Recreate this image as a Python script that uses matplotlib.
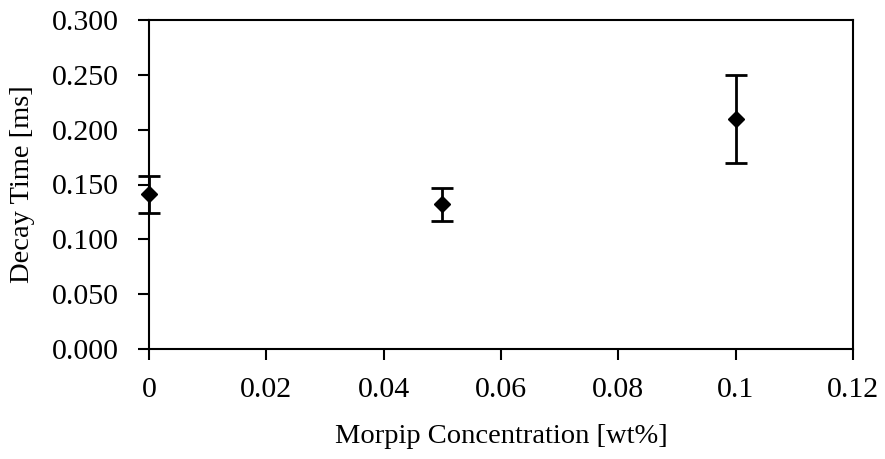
import numpy as np
import matplotlib.pyplot as plt

plt.rcParams['font.family'] = ['Liberation Serif', 'DejaVu Serif']

# data
conc = np.array([0.0, 0.05, 0.10])
decay = np.array([0.141, 0.132, 0.210])
err = np.array([0.017, 0.015, 0.040])

fig = plt.figure(figsize=(8.85, 4.59), dpi=100)
ax = fig.add_axes([149 / 885, 110 / 459, 704 / 885, 329 / 459])

ax.errorbar(conc, decay, yerr=err, fmt='D', color='black', markersize=8,
            ecolor='black', elinewidth=2, capsize=8, capthick=2, clip_on=False, zorder=5)

ax.set_xlim(0, 0.12)
ax.set_ylim(0, 0.3)
ax.set_xticks([0, 0.02, 0.04, 0.06, 0.08, 0.10, 0.12])
ax.set_xticklabels(['0', '0.02', '0.04', '0.06', '0.08', '0.1', '0.12'])
ax.set_yticks(np.arange(0, 0.301, 0.05))
ax.set_yticklabels(['%.3f' % v for v in np.arange(0, 0.301, 0.05)])

ax.tick_params(direction='out', length=8, width=1.5, labelsize=21.5, pad=14)
ax.tick_params(axis='x', pad=12)
for s in ax.spines.values():
    s.set_linewidth(1.5)

ax.set_xlabel('Morpip Concentration [wt%]', fontsize=20.5, labelpad=15)
ax.set_ylabel('Decay Time [ms]', fontsize=20.5, labelpad=12)

fig.savefig('out.png', dpi=100)
